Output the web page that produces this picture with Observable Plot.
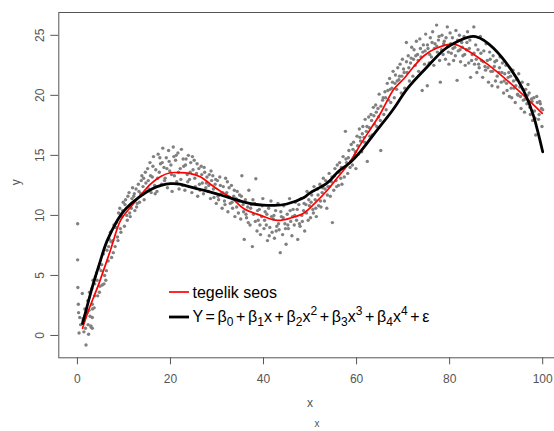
<!DOCTYPE html>
<html><head><meta charset="utf-8">
<script src="https://cdn.jsdelivr.net/npm/d3@7"></script>
<script src="https://cdn.jsdelivr.net/npm/@observablehq/plot@0.6"></script>
<style>body{margin:0;background:#fff;overflow:hidden} #chart svg{display:block}</style>
</head><body><div id="chart"></div>
<script>
// observed points [x, y]
const scatterPoints = [
[0.05,9.3],[0.05,6.3],[0.1,4.0],[0.2,2.6],[0.25,1.9],[0.35,0.2],[0.5,1.5],[0.7,0.9],[1.05,3.5],[1.2,1.4],[1.4,0.3],[1.6,2.2],[1.85,-0.8],[2.1,1.9],[2.4,0.1],[2.6,3.6],[2.9,0.8],[3.2,0.6],
[2.5,2.1],[3.2,1.5],[2.3,0.9],[3.2,2.6],[3.7,3.3],[2.9,0.7],
[3.35,4.6],[3.6,2.3],[3.85,4.9],[3.1,3.9],[4.1,5.2],[4.35,3.3],[4.6,5.6],[4.85,4.1],
[5.1,5.4],[5.35,4.2],[5.6,6.8],[5.85,5.0],[6.1,4.6],[6.35,7.1],[6.6,6.2],[6.85,8.0],
[7.1,8.6],[7.35,6.5],[7.6,7.9],[7.85,9.2],[8.1,7.4],[8.35,9.4],[8.6,8.2],[8.85,10.2],
[9.1,10.6],[9.35,8.6],[9.6,9.9],[9.85,11.1],[10.1,9.1],[10.35,11.3],[10.6,10.0],[10.85,11.6],
[11.1,11.9],[11.35,9.9],[11.6,10.6],[11.85,12.3],[12.1,11.6],[12.35,10.4],[12.6,12.2],[12.85,11.0],
[13.1,12.6],[13.35,11.1],[13.6,11.8],[13.85,13.3],[14.1,12.4],[14.35,11.3],[14.6,13.6],[14.85,12.0],
[15.1,13.9],[15.35,12.2],[15.6,14.4],[15.85,11.9],[16.1,13.2],[16.35,14.9],[16.6,12.5],[16.85,13.8],
[17.1,12.0],[17.35,15.1],[17.6,13.6],[17.85,14.3],[18.1,12.6],[18.35,15.6],[18.6,14.0],[18.85,13.1],
[19.1,14.8],[19.35,12.3],[19.6,15.4],[19.85,13.7],[20.1,14.2],[20.35,12.0],[20.6,15.7],[20.85,13.3],
[21.1,14.6],[21.35,12.8],[21.6,15.2],[21.85,12.2],[22.1,13.9],[22.35,15.5],[22.6,12.5],[22.85,14.1],
[23.1,12.1],[23.35,14.7],[23.6,13.4],[23.85,15.0],[24.1,13.0],[24.35,14.4],[24.6,11.9],[24.85,13.8],
[25.1,14.6],[25.35,12.4],[25.6,13.5],[25.85,11.6],[26.1,13.9],[26.35,12.1],[26.6,14.1],[26.85,12.7],
[27.1,11.8],[27.35,13.6],[27.6,12.3],[27.85,13.2],[28.1,12.0],[28.35,13.4],[28.6,11.4],[28.85,12.9],
[29.1,13.3],[29.35,11.5],[29.6,12.6],[29.85,11.0],[30.1,12.9],[30.35,11.3],[30.6,13.2],[30.85,11.8],
[31.1,10.6],[31.35,12.4],[31.6,11.2],[31.85,13.1],[32.1,11.9],[32.35,10.3],[32.6,12.3],[32.85,11.0],
[33.1,12.5],[33.35,10.6],[33.6,11.6],[33.85,9.9],[34.1,11.4],[34.35,12.0],[34.6,10.2],[34.85,11.7],
[35.1,9.7],[35.35,13.3],[35.6,10.9],[35.85,8.0],[36.1,11.3],[36.35,9.8],[36.6,10.7],[36.85,12.1],
[37.1,9.2],[37.35,10.9],[37.6,7.4],[37.85,10.1],[38.1,11.0],[38.35,13.05],[38.6,8.7],[38.85,9.6],
[39.1,10.5],[39.35,8.4],[39.6,9.9],[39.85,11.4],[40.1,8.9],[40.35,10.3],[40.6,9.2],[40.85,7.9],
[41.1,10.6],[41.35,9.0],[41.6,11.2],[41.85,8.6],[42.1,9.7],[42.35,8.1],[42.6,10.4],[42.85,9.1],
[43.1,11.0],[43.35,8.8],[43.6,6.9],[43.85,9.9],[44.1,8.4],[44.35,10.8],[44.6,9.3],[44.85,7.6],
[45.1,10.1],[45.35,8.9],[45.6,11.4],[45.85,9.5],[46.1,8.3],[46.35,10.5],[46.6,9.2],[46.85,11.1],
[47.1,9.6],[47.35,8.0],[47.6,10.9],[47.85,9.1],[48.1,11.4],[48.35,9.5],[48.6,10.4],[48.85,8.7],
[49.1,10.9],[49.35,12.0],[49.6,9.6],[49.85,10.8],[50.1,9.8],[50.35,11.7],[50.6,10.5],[50.85,12.4],
[51.1,11.3],[51.35,9.9],[51.6,12.2],[51.85,10.8],[52.1,12.6],[52.35,10.7],[52.6,11.9],[52.85,13.1],
[53.1,11.2],[53.35,12.9],[53.6,10.6],[53.85,12.4],[54.1,13.5],[54.35,11.6],[54.6,12.8],[54.8,9.4],
[55.1,12.1],[55.35,13.9],[55.6,12.9],[55.85,14.2],[56.1,12.5],[56.35,14.4],[56.6,13.1],[56.85,12.6],
[57.1,14.9],[57.35,13.2],[57.6,17.0],[57.85,14.4],[58.1,13.5],[58.35,15.4],[58.6,14.0],[58.85,15.9],
[59.1,14.2],[59.35,16.1],[59.6,15.0],[59.85,13.9],[60.1,16.6],[60.35,15.1],[60.6,17.2],[60.85,16.2],
[61.1,15.3],[61.35,17.4],[61.6,16.5],[61.85,18.0],[62.1,17.0],[62.3,14.5],[62.6,18.2],[62.85,16.6],
[63.1,18.4],[63.35,16.7],[63.6,19.0],[63.85,17.6],[64.1,19.2],[64.35,17.4],[64.6,18.9],[64.85,20.1],
[65.1,17.9],[65.2,15.4],[65.6,19.6],[65.85,18.4],[66.1,20.3],[66.35,18.8],[66.6,21.0],[66.85,19.6],
[67.1,21.4],[67.35,19.4],[67.6,20.6],[67.85,22.0],[68.1,19.8],[68.35,21.7],[68.6,20.5],[68.85,22.3],
[69.1,21.3],[69.35,22.6],[69.6,20.2],[69.85,23.0],[70.1,22.2],[70.35,20.6],[70.7,24.4],[70.85,21.9],
[71.1,23.3],[71.35,21.2],[71.6,22.7],[71.85,24.0],[72.1,21.6],[72.35,23.8],[72.6,22.5],[72.85,24.5],
[73.1,23.4],[73.35,22.0],[73.6,24.7],[73.85,23.2],[74.1,20.4],[74.35,24.2],[74.6,22.6],[74.85,25.1],
[75.2,20.8],[75.35,23.9],[75.6,22.7],[75.85,24.8],[76.1,23.2],[76.35,25.3],[76.6,22.5],[76.85,24.3],
[77.2,25.85],[77.35,23.6],[77.6,24.6],[77.85,22.9],[78.0,21.1],[78.35,25.0],[78.6,23.4],[78.85,24.5],
[79.1,23.0],[79.5,25.7],[79.6,24.1],[79.85,22.6],[80.1,25.2],[80.35,23.5],[80.6,24.8],[80.85,22.9],
[81.1,24.0],[81.35,25.4],[81.6,21.25],[81.85,23.7],[82.1,25.0],[82.35,22.8],[82.6,24.4],[82.85,23.3],
[83.1,24.9],[83.35,22.5],[83.6,23.8],[83.85,25.3],[84.1,22.7],[84.35,24.6],[84.5,21.5],[84.85,23.4],
[85.2,25.7],[85.35,22.6],[85.6,24.2],[85.85,21.9],[86.1,23.8],[86.35,22.3],[86.6,24.9],[86.85,22.9],
[87.1,21.5],[87.35,23.7],[87.6,22.4],[87.85,24.3],[88.1,22.9],[88.35,21.1],[88.6,23.6],[88.85,22.0],
[89.1,20.8],[89.35,23.3],[89.6,22.4],[89.85,21.2],[90.1,22.9],[90.35,20.7],[90.6,21.9],[90.85,23.2],
[91.1,21.1],[91.35,22.7],[91.6,20.2],[91.85,21.8],[92.1,22.5],[92.35,20.4],[92.6,21.5],[92.85,19.9],
[93.1,21.6],[93.35,19.8],[93.6,22.1],[93.85,20.6],[94.1,19.4],[94.35,21.3],[94.6,20.1],[94.85,21.8],
[95.1,20.7],[95.35,18.9],[95.6,21.1],[95.85,19.6],[96.1,18.6],[96.35,20.5],[96.6,19.3],[96.85,20.9],
[97.1,20.2],[97.35,18.4],[97.6,19.7],[97.85,17.9],[98.1,19.8],[98.35,18.1],[98.5,16.7],[98.85,19.4],
[99.1,18.0],[99.35,19.5],[99.5,19.3],[99.85,17.4],[100,18.8]
];
// more observed points in the dense core of the cloud [x, y]
const scatterCore = [
[1.23,1.2],[1.72,0.6],[2.23,2.9],[2.72,1.6],[3.23,2.2],[3.72,4.3],[4.23,4.6],[4.72,3.6],[5.23,5.9],[5.72,4.3],
[6.23,5.4],[6.72,7.4],[7.23,7.8],[7.72,6.9],[8.23,9.0],[8.72,7.9],[9.23,8.9],[9.72,10.4],[10.23,10.9],[10.72,9.6],
[11.23,10.2],[11.72,11.4],[12.23,11.8],[12.72,10.7],[13.23,12.0],[13.72,12.9],[14.23,13.1],[14.72,12.7],[15.23,12.9],[15.72,13.3],
[16.23,14.1],[16.72,11.8],[17.23,13.1],[17.72,14.8],[18.23,14.4],[18.72,12.9],[19.23,13.9],[19.72,14.5],[20.23,13.4],[20.72,14.9],
[21.23,15.0],[21.72,13.6],[22.23,13.0],[22.72,14.7],[23.23,14.2],[23.72,12.8],[24.23,13.6],[24.72,14.9],[25.23,13.1],[25.72,14.3],
[26.23,12.6],[26.72,13.4],[27.23,14.0],[27.72,12.7],[28.23,12.5],[28.72,13.7],[29.23,12.2],[29.72,13.0],[30.23,11.6],[30.72,12.5],
[31.23,11.9],[31.72,10.9],[32.23,12.8],[32.72,11.5],[33.23,11.1],[33.72,12.1],[34.23,10.7],[34.72,11.2],[35.23,11.6],[35.72,10.3],
[36.23,10.1],[36.72,9.4],[37.23,10.6],[37.72,11.3],[38.23,9.5],[38.72,10.4],[39.23,9.2],[39.72,10.8],[40.23,9.6],[40.72,10.1],
[41.23,8.3],[41.72,9.9],[42.23,10.0],[42.72,8.7],[43.23,9.3],[43.72,10.3],[44.23,9.8],[44.72,8.9],[45.23,9.2],[45.72,10.4],
[46.23,9.9],[46.72,10.0],[47.23,10.5],[47.72,9.3],[48.23,10.0],[48.72,11.0],[49.23,10.2],[49.72,11.3],[50.23,11.1],[50.72,10.2],
[51.23,10.6],[51.72,11.7],[52.23,11.2],[52.72,12.3],[53.23,12.2],[53.72,11.7],[54.23,12.4],[54.72,13.2],[55.23,13.3],[55.72,12.4],
[56.23,13.6],[56.72,14.0],[57.23,13.9],[57.72,14.7],[58.23,14.8],[58.72,14.5],[59.23,15.5],[59.72,15.3],[60.23,15.8],[60.72,16.5],
[61.23,16.8],[61.72,16.1],[62.23,17.4],[62.72,17.3],[63.23,17.9],[63.72,18.3],[64.23,18.6],[64.72,18.2],[65.23,19.1],[65.72,19.8],
[66.23,19.8],[66.72,20.4],[67.23,20.5],[67.72,21.1],[68.23,21.0],[68.72,21.2],[69.23,21.6],[69.72,21.6],[70.23,21.9],[70.72,22.8],
[71.23,22.3],[71.72,23.1],[72.23,23.0],[72.72,23.3],[73.23,22.9],[73.72,23.9],[74.23,23.6],[74.72,23.7],[75.23,24.2],[75.72,23.4],
[76.23,24.4],[76.72,23.9],[77.23,24.1],[77.72,24.9],[78.23,23.8],[78.72,24.3],[79.23,24.8],[79.72,23.6],[80.23,24.3],[80.72,23.9],
[81.23,23.3],[81.72,24.6],[82.23,23.8],[82.72,24.0],[83.23,23.4],[83.72,24.4],[84.23,23.9],[84.72,22.9],[85.23,23.5],[85.72,23.0],
[86.23,22.6],[86.72,23.5],[87.23,22.8],[87.72,22.1],[88.23,22.3],[88.72,23.0],[89.23,22.0],[89.72,22.8],[90.23,21.6],[90.72,22.3],
[91.23,21.9],[91.72,21.2],[92.23,21.0],[92.72,21.9],[93.23,20.6],[93.72,21.2],[94.23,20.8],[94.72,20.0],[95.23,19.9],[95.72,20.5],
[96.23,19.7],[96.72,20.0],[97.23,19.0],[97.72,19.5],[98.23,18.7],[98.72,19.9],[99.23,18.4],[99.72,18.9]
];
// true relation (red)
const trueCurve = [
[1.1,0.6],[2.5,2.2],[4.6,4.3],[7.1,7.1],[9.3,9.6],[11.45,10.7],[13.2,11.5],[15.7,12.6],[17.9,13.25],[20,13.55],[22,13.56],[24,13.5],[26.5,13.2],[28.6,12.6],[30.8,12.0],[33.3,11.4],[35.8,10.55],[39.4,10.0],[43,9.58],[46,9.8],[48.7,10.2],[51,11.0],[53.7,12.1],[56,13.2],[58.3,14.3],[61,16.0],[63,17.2],[65,18.4],[68,20.5],[70.2,21.4],[72.3,22.4],[74.5,23.3],[77,23.9],[81,24.25],[84,23.7],[88.1,22.6],[93.1,21.0],[96.7,19.7],[99.9,18.5]
];
// 4th degree polynomial fit (black)
const fitCurve = [
[1.1,1.0],[2,2.3],[3.4,4.3],[5,6.3],[6.4,7.9],[8.6,9.6],[10.5,10.6],[13.2,11.5],[16,12.2],[18,12.5],[20,12.64],[22,12.6],[24,12.4],[26,12.2],[28.6,11.94],[30.8,11.7],[33.3,11.4],[37,11.0],[40,10.85],[42.2,10.83],[45,10.95],[48.7,11.5],[50.1,11.9],[53.7,12.7],[55.9,13.6],[58.3,14.3],[61,15.4],[63,16.4],[65,17.4],[68,18.9],[71,20.6],[75,22.3],[78.8,23.8],[82.3,24.6],[85.6,24.9],[89.5,23.9],[93.1,22.2],[95.9,20.4],[98.1,18.2],[100,15.3]
];
const xTicks = [0, 20, 40, 60, 80, 100];
const yTicks = [0, 5, 10, 15, 20, 25];
const xLabel = "x";
const yLabel = "y";
const subLabel = "x";
const legendLabels = ["tegelik seos"];

const pts = scatterPoints.concat(scatterCore).map(([x, y]) => ({x, y}));
const tr = trueCurve.map(([x, y]) => ({x, y}));
const fit = fitCurve.map(([x, y]) => ({x, y}));
const axisColor = "#555";
const font = "'Liberation Sans', Arial, sans-serif";

const chart = Plot.plot({
  width: 554, height: 431,
  marginLeft: 58.3, marginRight: -6.8, marginTop: 12, marginBottom: 73.7,
  style: {fontFamily: font, background: "white"},
  x: {domain: [-4, 104]},
  y: {domain: [-1.86, 26.9]},
  marks: [
    Plot.dot(pts, {x: "x", y: "y", r: 1.7, fill: "#808080"}),
    Plot.line(tr, {x: "x", y: "y", stroke: "red", strokeWidth: 1.7, curve: "catmull-rom"}),
    Plot.line(fit, {x: "x", y: "y", stroke: "black", strokeWidth: 2.8, curve: "natural"}),
    Plot.frame({stroke: axisColor}),
    Plot.axisX({ticks: xTicks, tickSize: 7, tickPadding: 10, fontSize: 12, color: axisColor, label: null}),
    Plot.axisY({ticks: yTicks, tickSize: 8, tickRotate: -90, tickPadding: 7, fontSize: 12, color: axisColor, label: null}),
    Plot.text([yLabel], {frameAnchor: "left", dx: -43, rotate: -90, fontSize: 12, fill: axisColor}),
    Plot.text([xLabel], {frameAnchor: "bottom", dy: 49.4, fontSize: 12, fill: axisColor}),
    Plot.text([subLabel], {frameAnchor: "bottom", dx: 7, dy: 69, fontSize: 10, fill: axisColor})
  ]
});
document.getElementById("chart").appendChild(chart);

// legend
const svg = d3.select(chart);
const lg = svg.append("g").attr("font-family", font).attr("font-size", 16).attr("fill", "black").attr("text-anchor", "start");
lg.append("line").attr("x1", 169).attr("x2", 189).attr("y1", 292).attr("y2", 292).attr("stroke", "red").attr("stroke-width", 1.7);
lg.append("text").attr("x", 192.5).attr("y", 297.5).text(legendLabels[0]);
lg.append("line").attr("x1", 169).attr("x2", 189).attr("y1", 317).attr("y2", 317).attr("stroke", "black").attr("stroke-width", 2.8);
const ft = lg.append("text").attr("x", 192.5).attr("y", 321.5).style("word-spacing", "-1.8px");
const parts = [
  ["Y = β", 0], ["0", 1], [" + β", 0], ["1", 1], ["x + β", 0], ["2", 1], ["x", 0], ["2", 2],
  [" + β", 0], ["3", 1], ["x", 0], ["3", 2], [" + β", 0], ["4", 1], ["x", 0], ["4", 2], [" + ε", 0]
];
let cur = 0;
for (const [s, kind] of parts) {
  const target = kind === 1 ? 4 : kind === 2 ? -7 : 0;
  ft.append("tspan").attr("dy", target - cur).attr("font-size", kind ? 12 : 16).text(s);
  cur = target;
}
</script></body></html>
